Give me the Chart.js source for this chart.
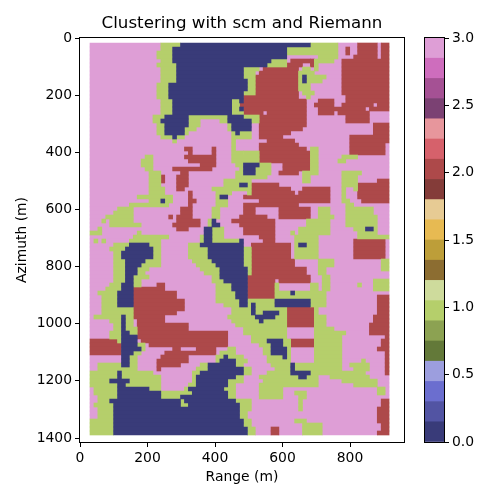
<!DOCTYPE html>
<html>
<head>
<meta charset="utf-8">
<script src="https://cdn.jsdelivr.net/npm/chart.js@4"></script>
<style>
  body { margin: 0; background: #fff; }
  canvas { position: absolute; left: 0; top: 0; }
</style>
</head>
<body>
<canvas id="mapChart" width="500" height="500"></canvas>
<canvas id="barChart" width="500" height="500"></canvas>
<script>
// tab20b, 20 levels spread over 0..3
const levelColors = ['#393b79', '#5254a3', '#6b6ecf', '#9c9ede', '#637939', '#8ca252', '#b5cf6b', '#cedb9c',
    '#8c6d31', '#bd9e39', '#e7ba52', '#e7cb94', '#843c39', '#ad494a', '#d6616b', '#e7969c',
    '#7b4173', '#a55194', '#ce6dbd', '#de9ed6'];
const clusters = [0, 1, 2, 3];
const clusterLevels = [0, 6, 13, 19];
const rangeTicks = [0, 200, 400, 600, 800];
const azimuthTicks = [0, 200, 400, 600, 800, 1000, 1200, 1400];
const barTicks = [0, 0.5, 1, 1.5, 2, 2.5, 3];

const firstRange = 29.6; // left edge of column 0, metres
const cellRange = 11.66; // column width, metres
const columnCount = 76;
const firstAzimuth = 17.5; // top edge of row 0, metres
const cellAzimuth = 14; // row height, metres

// one string per azimuth row, each run is startColumn:cluster
const clusterRuns = [
    "0:3 18:1 23:0 56:1 63:3 68:2 73:3 74:2",
    "0:3 18:1 21:0 50:1 63:3 65:2 66:3 68:2 73:3 74:2",
    "0:3 17:1 21:0 50:1 63:3 65:2 66:3 68:2 73:3 74:2",
    "0:3 17:1 21:0 50:3 58:1 63:3 67:2 73:3 74:2",
    "0:3 18:1 21:0 46:1 50:3 51:2 56:2 57:1 62:3 64:2",
    "0:3 17:1 22:0 45:1 50:2 54:3 56:2 57:1 58:3 64:2",
    "0:3 18:1 22:0 39:1 43:3 44:2 53:3 54:1 56:3 57:1 58:3 64:2",
    "0:3 18:1 22:0 39:1 42:3 43:2 53:1 57:3 64:2",
    "0:3 18:1 22:0 39:1 42:2 53:1 54:0 55:1 60:3 64:2",
    "0:3 18:1 22:0 40:1 42:2 53:1 54:0 55:1 59:3 64:2",
    "0:3 17:1 20:0 40:1 42:2 53:1 56:3 64:2",
    "0:3 17:1 20:0 40:1 42:2 53:1 56:3 64:2",
    "0:3 17:1 20:0 39:1 42:2 53:3 54:1 57:3 64:2",
    "0:3 17:1 20:0 39:2 53:3 55:1 56:3 65:2",
    "0:3 18:1 21:0 36:1 38:0 39:2 55:3 58:2 62:3 65:2",
    "0:3 18:1 21:0 36:1 38:2 55:3 57:2 62:3 64:2 72:3 73:2",
    "0:3 18:1 21:0 36:1 38:0 39:2 55:3 58:2 70:3 71:2",
    "0:3 18:1 21:0 36:1 39:2 44:3 45:2 55:3 58:2 62:3 63:2 71:3",
    "0:3 16:1 19:0 25:1 35:0 39:1 43:2 55:3 65:2 71:3",
    "0:3 16:1 18:0 25:1 28:3 33:1 35:0 41:1 43:2 55:3 65:2 71:3",
    "0:3 17:1 19:0 25:1 28:3 35:1 36:0 41:3 43:2 55:3 72:2",
    "0:3 17:1 19:0 24:1 27:3 35:1 36:0 41:3 43:2 54:3 72:2",
    "0:3 17:1 19:0 24:1 25:3 36:1 37:0 38:1 41:3 43:2 51:3 72:2",
    "0:3 18:1 21:0 22:1 24:3 36:1 41:3 43:2 49:3 66:2",
    "0:3 21:1 22:3 36:1 37:3 45:2 52:3 66:2",
    "0:3 36:1 37:3 43:2 53:3 66:2 75:3",
    "0:3 24:2 26:3 31:2 32:3 36:1 37:3 43:2 55:3 56:1 58:3 66:2 75:3",
    "0:3 25:2 26:3 31:2 32:3 36:1 39:1 43:2 56:1 58:3 66:2 75:3",
    "0:3 14:1 16:3 24:2 32:3 36:1 43:2 56:1 58:3 64:1 68:3",
    "0:3 13:1 16:3 25:2 32:3 36:1 43:2 56:1 58:3 63:1 65:3",
    "0:3 13:1 16:3 28:2 32:3 37:1 39:0 43:1 46:3 49:2 56:1 58:3",
    "0:3 14:1 16:3 21:2 31:3 38:1 39:0 42:1 46:3 49:2 56:1 58:3",
    "0:3 15:1 18:3 23:2 25:3 37:1 39:0 42:1 46:3 48:2 53:3 54:1 58:3 64:1 69:3",
    "0:3 15:1 18:2 19:3 22:2 25:3 37:1 45:3 54:1 56:3 64:1 68:3",
    "0:3 15:1 18:2 19:3 22:2 25:3 34:1 41:3 54:1 56:3 64:1 68:3 73:2",
    "0:3 15:1 18:3 22:2 25:3 34:1 38:0 40:1 41:2 48:3 64:1 68:2",
    "0:3 15:1 19:3 22:2 24:3 31:1 41:2 51:3 54:2 61:3 64:1 65:3 67:1 68:2",
    "0:3 15:1 19:3 25:2 26:3 32:1 36:3 40:1 41:2 52:3 53:2 61:3 64:1 65:3 68:2",
    "0:3 12:1 21:3 25:2 26:3 32:1 33:0 35:3 39:2 61:3 64:1 65:3 68:2",
    "0:3 15:1 18:0 19:1 21:3 25:2 27:3 32:1 35:3 43:2 61:3 64:1 66:3 69:2",
    "0:3 10:1 20:3 25:2 26:3 32:1 35:3 39:2 53:3 65:1 67:3",
    "0:3 7:1 11:3 23:2 26:3 31:1 33:3 39:2 42:3 48:2 56:3 58:1 61:3 65:1 72:3",
    "0:3 6:1 11:3 23:2 26:3 31:1 33:3 39:2 42:3 48:2 56:3 58:1 61:3 65:1 72:3",
    "0:3 4:1 11:3 20:2 21:3 22:2 26:3 31:1 33:3 38:2 45:3 48:2 56:3 58:1 62:3 65:1 73:3",
    "0:3 3:1 4:3 5:1 11:3 22:2 28:3 30:1 31:0 32:3 36:2 47:3 55:1 61:3 65:1 73:3",
    "0:3 5:1 13:3 21:2 28:3 30:1 31:0 33:3 38:2 47:3 55:1 61:3 65:1 73:3",
    "0:3 2:1 3:3 22:2 25:3 29:0 31:1 34:3 39:2 47:3 53:1 61:3 67:1 70:0 72:1 73:3",
    "0:1 3:3 12:1 13:3 29:0 31:1 34:3 39:2 47:3 51:1 52:3 53:1 61:3 68:1 73:3",
    "0:3 11:1 20:3 28:1 29:0 31:1 34:3 43:2 47:3 52:1 58:3 68:1",
    "0:3 1:1 2:3 3:1 4:3 10:1 18:3 28:1 29:0 31:1 38:0 39:3 44:2 47:3 52:1 58:3 67:2 75:3",
    "0:3 6:1 10:0 15:1 18:3 25:1 28:0 39:3 41:2 51:3 52:1 53:0 55:1 58:3 67:2 75:3",
    "0:3 5:1 9:0 16:1 18:3 25:1 30:0 39:1 41:2 51:3 52:1 58:3 67:2 75:3",
    "0:3 6:1 8:0 16:1 18:3 25:1 30:0 39:1 41:2 51:3 52:1 58:3 67:2 75:3",
    "0:3 6:1 8:0 16:1 18:3 25:1 30:0 39:1 41:2 51:3 52:1 58:3 67:2 75:3",
    "0:3 6:1 9:0 14:1 18:3 26:1 31:0 39:1 41:2 52:3 58:1 62:3 74:1",
    "0:3 6:1 9:0 13:1 18:3 27:1 32:0 39:1 41:2 52:3 58:1 62:3 74:1",
    "0:3 6:1 9:0 12:1 15:3 28:1 33:0 40:1 41:2 55:3 58:1 60:3 74:1",
    "0:3 6:1 9:0 12:1 14:3 29:1 33:0 40:1 41:2 55:3 58:1 60:3",
    "0:3 6:1 9:0 11:1 15:3 31:1 33:0 40:2 56:3 59:1 61:3",
    "0:3 6:1 9:0 11:1 13:3 31:1 34:0 40:2 47:3 48:2 56:3 59:1 61:3 72:1",
    "0:3 5:1 8:0 11:1 13:3 17:2 19:3 32:1 36:0 40:2 47:1 48:3 56:1 58:3 59:1 61:3 68:1 69:3 72:1",
    "0:3 4:1 8:0 11:2 19:3 32:1 36:0 40:2 47:1 48:3 56:1 58:3 59:1 61:3 72:1",
    "0:3 2:1 7:0 11:2 22:3 32:1 37:0 40:2 47:1 51:0 52:1 60:3",
    "0:3 3:1 7:0 11:2 22:3 32:1 37:0 40:2 47:1 60:3 73:2",
    "0:3 3:1 7:0 11:2 24:3 32:1 38:0 40:1 47:0 56:1 60:3 73:2",
    "0:3 3:1 7:0 11:2 24:3 34:1 38:0 40:1 41:0 42:1 47:0 56:1 60:3 73:2",
    "0:3 3:1 11:2 24:3 36:1 41:0 42:1 50:2 57:1 58:3 73:2",
    "0:3 3:1 11:2 22:3 36:1 41:0 42:1 44:0 48:1 50:2 57:1 58:3 73:2",
    "0:3 1:1 8:0 9:1 11:2 19:3 35:1 42:0 47:1 50:2 57:1 60:3 72:2",
    "0:3 5:1 8:0 9:1 11:3 12:2 19:3 36:1 43:0 44:1 50:2 57:1 60:3 72:2",
    "0:3 6:1 8:0 9:1 11:3 12:2 25:3 37:1 50:2 57:1 60:3 71:2",
    "0:3 6:1 8:0 9:1 12:2 25:3 39:1 50:3 57:1 62:3 71:2",
    "0:3 5:1 8:0 10:1 12:2 35:3 39:1 50:3 57:1 65:3 71:2",
    "0:3 5:1 8:0 12:2 35:3 41:1 50:3 57:1 64:3 75:2",
    "0:2 7:1 8:0 12:3 13:2 35:3 41:1 45:0 49:1 51:2 57:1 64:3 74:2",
    "0:2 8:0 12:1 14:3 15:2 35:3 43:1 46:0 49:1 51:2 57:1 64:3 74:2",
    "0:2 8:0 13:1 14:3 21:2 23:3 27:2 32:3 35:1 37:3 44:1 46:0 50:1 51:3 57:1 64:3 73:2",
    "0:2 8:0 11:1 13:3 19:2 32:3 33:1 37:3 44:1 46:0 50:1 51:3 57:1 64:3 75:2",
    "0:3 8:0 10:1 12:3 18:2 25:3 32:1 34:0 35:1 39:3 45:1 49:0 50:1 51:3 57:1 64:3 75:2",
    "0:3 8:0 10:1 12:3 17:2 25:3 32:1 33:0 37:1 40:3 45:1 51:3 57:1 64:3 69:1 70:3 75:2",
    "0:3 2:1 8:0 10:1 12:3 17:2 23:3 28:1 30:0 37:1 39:3 46:1 51:0 52:1 64:3 66:1 71:3 75:2",
    "0:3 2:1 12:3 17:2 18:3 27:1 30:0 39:1 41:3 47:1 51:0 52:1 64:3 67:1 71:3 75:2",
    "0:1 7:0 8:1 16:3 26:1 28:0 39:1 41:3 45:1 51:0 56:1 70:3 75:2",
    "0:1 7:0 8:1 18:3 26:1 27:0 37:1 39:3 43:1 53:0 55:1 58:3 61:1 71:3",
    "0:1 5:0 10:1 18:3 26:1 27:0 35:1 39:3 44:1 58:3 64:1 73:3",
    "0:1 7:0 9:1 18:3 25:1 27:0 35:1 37:3 43:1 58:3 67:1 73:3",
    "0:3 1:1 7:0 15:1 18:3 24:1 25:0 34:1 37:3 43:1 49:3 73:1 75:3",
    "0:3 1:1 7:0 18:1 26:0 35:1 37:3 43:1 49:3 52:1 55:3 73:1 75:3",
    "0:3 2:1 7:0 18:1 23:0 35:1 37:3 43:1 49:3 53:1 55:3",
    "0:3 2:1 5:0 23:1 24:0 37:1 41:3 53:1 54:3 74:2",
    "0:3 1:1 6:0 23:1 25:0 38:1 41:3 53:1 54:3 74:2",
    "0:3 2:1 6:0 38:1 41:3 53:1 54:3 73:2",
    "0:3 2:1 6:0 38:1 40:3 73:2",
    "0:3 2:1 6:0 38:1 40:3 73:2",
    "0:1 6:0 39:1 41:3 52:1 55:3 73:2",
    "0:1 6:0 39:1 41:3 54:1 59:3 74:2",
    "0:1 6:0 40:1 42:3 46:2 48:3 54:1 59:3 74:2",
    "0:1 6:0 40:1 42:3 46:2 48:3 54:1 59:3 73:2"
];

const tickFont = { family: 'DejaVu Sans', size: 13.9 };
const tickGrid = { display: true, offset: false, drawOnChartArea: false, drawTicks: true, tickLength: 5, tickColor: '#000', lineWidth: 1 };
const useTicks = values => scale => { scale.ticks = values.map(value => ({ value })); };

// turn the runs into floating horizontal bars, one dataset per cluster
const clusterBars = clusters.map(() => []);
clusterRuns.forEach((row, r) => {
    const runs = row.split(' ').map(s => s.split(':').map(Number));
    runs.forEach(([start, cluster], i) => {
        const end = i + 1 < runs.length ? runs[i + 1][0] : columnCount;
        clusterBars[cluster].push({
            x: [firstRange + start * cellRange, firstRange + end * cellRange],
            y: firstAzimuth + (r + 0.5) * cellAzimuth
        });
    });
});

const frame = {
    id: 'frame',
    afterDatasetsDraw(chart) {
        const { ctx, chartArea: a } = chart;
        ctx.save();
        ctx.strokeStyle = '#000';
        ctx.lineWidth = 1;
        ctx.strokeRect(a.left - 0.5, a.top - 0.5, a.right - a.left + 1, a.bottom - a.top + 1);
        ctx.restore();
    }
};

new Chart(document.getElementById('mapChart'), {
    type: 'bar',
    data: {
        datasets: clusters.map(c => ({
            label: 'cluster ' + c,
            data: clusterBars[c],
            backgroundColor: levelColors[clusterLevels[c]],
            borderWidth: 0,
            grouped: false,
            barPercentage: 1,
            categoryPercentage: 1
        }))
    },
    options: {
        indexAxis: 'y',
        responsive: false,
        animation: false,
        layout: { padding: { left: 14, right: 96, bottom: 14 } },
        plugins: {
            legend: { display: false },
            tooltip: { enabled: false },
            title: {
                display: true,
                fullSize: false,
                text: 'Clustering with scm and Riemann',
                color: '#000',
                font: { family: 'DejaVu Sans', size: 16.67, weight: 'normal' },
                padding: { top: 14, bottom: 4 }
            }
        },
        scales: {
            x: {
                type: 'linear',
                min: 0,
                max: 960,
                offset: false,
                grid: tickGrid,
                border: { display: false },
                afterBuildTicks: useTicks(rangeTicks),
                ticks: { maxRotation: 0, color: '#000', font: tickFont, padding: 3, callback: v => String(v) },
                title: { display: true, text: 'Range (m)', color: '#000', font: tickFont, padding: { top: 4, bottom: 0 } },
                afterFit(scale) { scale.height = 44; }
            },
            y: {
                type: 'linear',
                reverse: true,
                min: 0,
                max: 1414,
                offset: false,
                grid: tickGrid,
                border: { display: false },
                afterBuildTicks: useTicks(azimuthTicks),
                ticks: { color: '#000', font: tickFont, padding: 3, callback: v => String(v) },
                title: { display: true, text: 'Azimuth (m)', color: '#000', font: tickFont, padding: { top: 0, bottom: 2 } },
                afterFit(scale) { scale.width = 66; }
            }
        }
    },
    plugins: [frame]
});

// colour bar
const barStep = 3 / levelColors.length;
new Chart(document.getElementById('barChart'), {
    type: 'bar',
    data: {
        labels: ['levels'],
        datasets: levelColors.map((color, i) => ({
            data: [[i * barStep, (i + 1) * barStep]],
            backgroundColor: color,
            borderWidth: 0,
            grouped: false,
            barPercentage: 1,
            categoryPercentage: 1
        }))
    },
    options: {
        responsive: false,
        animation: false,
        layout: { padding: { left: 425, top: 38, bottom: 58 } },
        plugins: { legend: { display: false }, tooltip: { enabled: false } },
        scales: {
            x: { display: false },
            y: {
                position: 'right',
                min: 0,
                max: 3,
                grid: tickGrid,
                border: { display: false },
                afterBuildTicks: useTicks(barTicks),
                ticks: { color: '#000', font: tickFont, padding: 3, callback: v => v.toFixed(1) },
                afterFit(scale) { scale.width = 56; }
            }
        }
    },
    plugins: [frame]
});
</script>
</body>
</html>
